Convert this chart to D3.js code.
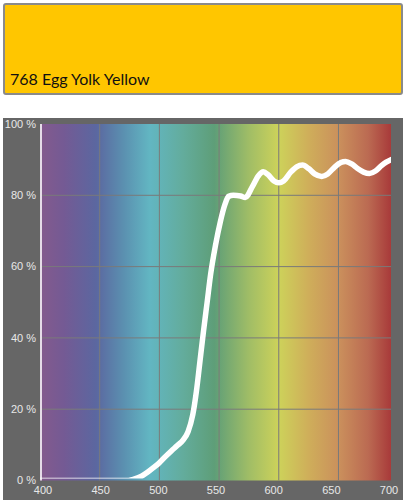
<!DOCTYPE html>
<meta charset="utf-8" />
<style>
  body { margin: 0; background: #fff; }
  svg { display: block; }
</style>
<body>
  <div id="chart"></div>
  <script src="https://cdn.jsdelivr.net/npm/d3@7"></script>
  <script>
    // filter name and swatch colour
    var nomeFiltro = "768 Egg Yolk Yellow";
    var corFiltro = "#FFC600";

    // transmission curve (nm, %)
    var comprimentos = [400, 420, 440, 460, 474, 478, 485, 490, 495, 500, 505, 510, 515, 520, 524, 528, 531, 534, 537, 540, 543, 547, 551, 555, 558, 562, 568, 572, 578, 583, 587, 591, 596, 600, 604, 610, 615, 620, 625, 630, 636, 641, 647, 652, 656, 661, 666, 671, 676, 681, 686, 690, 694];
    var transmissao = [0, 0, 0, 0, 0, 0.3, 1.2, 2.3, 3.6, 5, 6.7, 8.3, 9.8, 11.4, 13.7, 18.5, 25, 33.5, 42, 50, 58, 66, 72.5, 77.5, 79.7, 80, 79.8, 79.4, 82.5, 85.5, 86.6, 85.8, 84, 83.5, 84, 86.5, 88, 88.5, 87.5, 86, 85.3, 86, 88, 89.2, 89.5, 88.8, 87.5, 86.5, 86.1, 86.8, 88.3, 89.3, 90];

    // ticks
    var ticksX = [400, 450, 500, 550, 600, 650, 700];
    var ticksY = [0, 20, 40, 60, 80, 100];

    // spectrum background
    var espectroNm = [400, 420, 447, 470, 492, 520, 546, 575, 600, 625, 651, 675, 694];
    var espectroCor = ["#845a8d", "#745a94", "#5b67a0", "#5b90b0", "#62b6c2", "#63ac9c", "#5e9e78", "#a0bd66", "#cdd25a", "#cfae5a", "#ca8f5c", "#bb6a52", "#a83a3a"];

    var largura = 406, altura = 500;
    var svg = d3.select("#chart").append("svg")
      .attr("width", largura).attr("height", altura);

    // swatch box
    svg.append("rect")
      .attr("x", 4).attr("y", 4).attr("width", 398).attr("height", 90)
      .attr("rx", 2)
      .attr("fill", corFiltro)
      .attr("stroke", "#8a8a8a").attr("stroke-width", 2);
    svg.append("text")
      .attr("x", 10).attr("y", 85)
      .attr("font-family", "Lato, 'Noto Sans', sans-serif")
      .attr("font-size", "16px")
      .attr("fill", "#111")
      .text(nomeFiltro);

    // chart panel
    svg.append("rect")
      .attr("x", 3).attr("y", 118).attr("width", 400).attr("height", 382)
      .attr("fill", "#666666");

    var x = d3.scaleLinear().domain([400, 694]).range([40, 391]);
    var xRotulo = d3.scaleLinear().domain([400, 700]).range([43, 389]);
    var y = d3.scaleLinear().domain([0, 100]).range([480.5, 124]);

    var grad = svg.append("defs").append("linearGradient")
      .attr("id", "espectro")
      .attr("x1", "0%").attr("x2", "100%").attr("y1", "0%").attr("y2", "0%");
    grad.selectAll("stop")
      .data(espectroNm)
      .enter()
      .append("stop")
      .attr("offset", function (d) { return ((d - 400) / (694 - 400) * 100) + "%"; })
      .attr("stop-color", function (d, i) { return espectroCor[i]; });

    svg.append("rect")
      .attr("x", x(400)).attr("y", y(100))
      .attr("width", x(694) - x(400)).attr("height", y(0) - y(100))
      .attr("fill", "url(#espectro)");

    // grid
    svg.selectAll(".gx")
      .data(ticksX.filter(function (d) { return d > 400 && d < 694; }))
      .enter().append("line")
      .attr("x1", function (d) { return x(d); }).attr("x2", function (d) { return x(d); })
      .attr("y1", y(100)).attr("y2", y(0))
      .attr("stroke", "#7a7a7a").attr("stroke-width", 1);
    svg.selectAll(".gy")
      .data(ticksY.filter(function (d) { return d > 0 && d < 100; }))
      .enter().append("line")
      .attr("x1", x(400)).attr("x2", x(694))
      .attr("y1", function (d) { return y(d); }).attr("y2", function (d) { return y(d); })
      .attr("stroke", "#7a7a7a").attr("stroke-width", 1);

    // light left edge
    svg.append("line")
      .attr("x1", x(400) + 1).attr("x2", x(400) + 1)
      .attr("y1", y(100)).attr("y2", y(0))
      .attr("stroke", "#e6dce8").attr("stroke-width", 2);

    // curve
    var pontos = comprimentos.map(function (c, i) { return [c, transmissao[i]]; });
    var linha = d3.line()
      .x(function (d) { return x(d[0]); })
      .y(function (d) { return y(d[1]); })
      .curve(d3.curveMonotoneX);

    svg.append("clipPath").attr("id", "clip")
      .append("rect")
      .attr("x", x(400)).attr("y", y(100) - 5)
      .attr("width", x(694) - x(400)).attr("height", y(0) - y(100) + 3);

    svg.append("path")
      .datum(pontos)
      .attr("clip-path", "url(#clip)")
      .attr("d", linha)
      .attr("fill", "none")
      .attr("stroke", "#fff")
      .attr("stroke-width", 5.5)
      .attr("stroke-linejoin", "round")
      .attr("stroke-linecap", "round");

    // labels
    svg.selectAll(".ly")
      .data(ticksY)
      .enter().append("text")
      .attr("x", 36)
      .attr("y", function (d) { return y(d); })
      .attr("dy", "0.35em")
      .attr("text-anchor", "end")
      .attr("font-family", "'Liberation Sans', Arial, sans-serif")
      .attr("font-size", "11px")
      .attr("fill", "#e8e8e8")
      .text(function (d) { return d + " %"; });

    svg.selectAll(".lx")
      .data(ticksX)
      .enter().append("text")
      .attr("x", function (d) { return xRotulo(d); })
      .attr("y", 494)
      .attr("text-anchor", "middle")
      .attr("font-family", "'Liberation Sans', Arial, sans-serif")
      .attr("font-size", "11px")
      .attr("fill", "#e8e8e8")
      .text(function (d) { return d; });
  </script>
</body>
